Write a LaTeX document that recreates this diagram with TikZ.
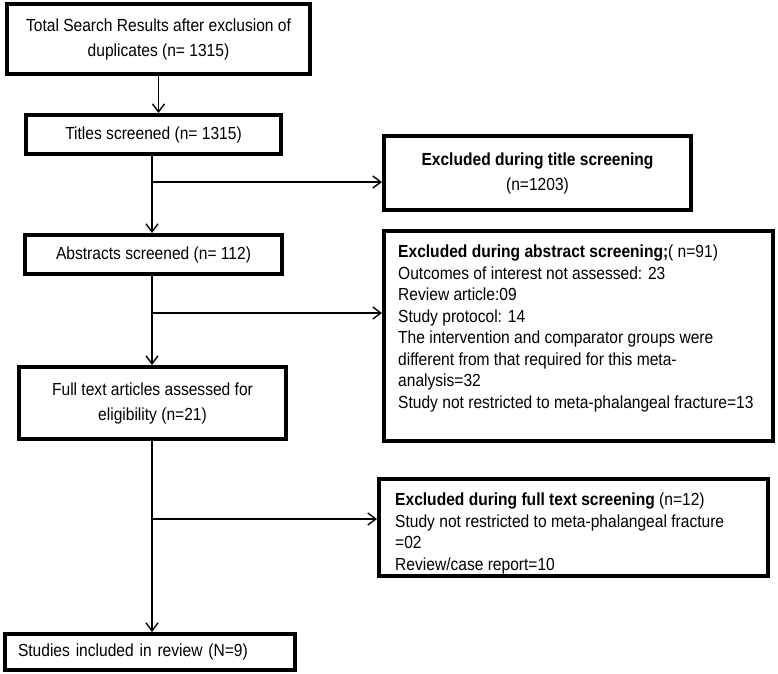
\documentclass[tikz,border=0pt]{standalone}
\usepackage{fontspec}
\setmainfont[FakeStretch=0.89]{Liberation Sans}
\usetikzlibrary{arrows.meta}
\begin{document}
\begin{tikzpicture}[x=1pt,y=-1pt,
  box/.style={draw, line width=4.2pt, inner sep=0pt, align=center,
    font=\fontsize{17.5}{25}\selectfont},
  conn/.style={line width=1.4pt},
  arr/.style={conn, -{Straight Barb[length=8pt,width=12pt]}},
  txt/.style={anchor=north west, inner sep=0pt, align=left,
    font=\fontsize{17.5}{21.5}\selectfont}]
\useasboundingbox (0,0) rectangle (778,673);

\node[box, minimum width=302.8pt, minimum height=69.8pt] (tot) at (158.5,39)
  {Total Search Results after exclusion of\\duplicates (n= 1315)};
\node[box, minimum width=254.8pt, minimum height=38.8pt] (tit) at (153.5,134.5)
  {Titles screened (n= 1315)};
\node[box, minimum width=306.8pt, minimum height=73.8pt] (texcl) at (537.5,173)
  {\textbf{Excluded during title screening}\\(n=1203)};
\node[box, minimum width=256.8pt, minimum height=38.8pt] (abs) at (153.5,254.5)
  {Abstracts screened (n= 112)};
\node[box, minimum width=388.8pt, minimum height=209.8pt] (aexcl) at (578.5,336) {};
\node[txt] (aexcltxt) at (398,245)
  {\textbf{Excluded during abstract screening;}( n=91)\\
   Outcomes of interest not assessed: 23\\
   Review article:09\\
   Study protocol: 14\\
   The intervention and comparator groups were\\
   different from that required for this meta-\\
   analysis=32\\
   Study not restricted to meta-phalangeal fracture=13};
\node[box, minimum width=266.8pt, minimum height=71.8pt] (full) at (152.5,403)
  {Full text articles assessed for\\eligibility (n=21)};
\node[box, minimum width=388.8pt, minimum height=96.8pt] (fexcl) at (573.5,527.5) {};
\node[txt] (fexcltxt) at (395,493)
  {\textbf{Excluded during full text screening} (n=12)\\
   Study not restricted to meta-phalangeal fracture\\
   =02\\
   Review/case report=10};
\node[box, align=left, text width=264pt, minimum width=289.8pt, minimum height=35.8pt] (incl) at (150,652)
  {Studies included in review (N=9)};

\coordinate (j1) at (152,182);
\coordinate (j2) at (152,313);
\coordinate (j3) at (152,519);

\draw[arr] (tot.south) -- (tot.south |- tit.north);
\draw[arr] (tit.south -| j1) -- (abs.north -| j1);
\draw[arr] (j1) -- (j1 -| texcl.west);
\draw[arr] (abs.south -| j2) -- (full.north -| j2);
\draw[arr] (j2) -- (j2 -| aexcl.west);
\draw[arr] (full.south -| j3) -- (incl.north -| j3);
\draw[arr] (j3) -- (j3 -| fexcl.west);
\end{tikzpicture}
\end{document}
